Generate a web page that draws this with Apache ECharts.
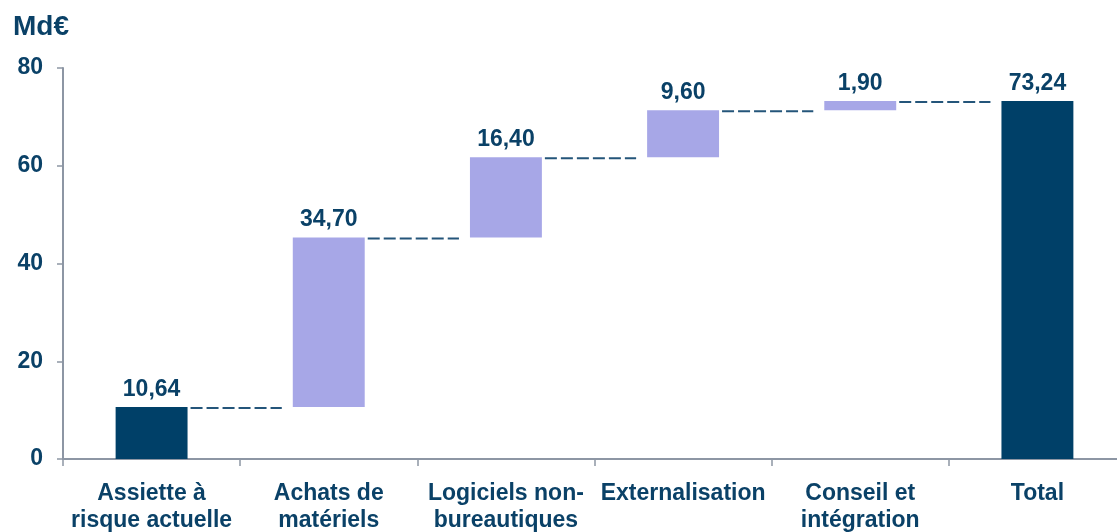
<!DOCTYPE html>
<html>
<head>
<meta charset="utf-8">
<script src="https://cdn.jsdelivr.net/npm/echarts@6/dist/echarts.min.js"></script>
<style>
  html, body { margin: 0; padding: 0; background: #ffffff; overflow: hidden; }
  /* the plot runs slightly past the right edge of the window */
  #chart { width: 1126px; height: 532px; }
</style>
</head>
<body>
<div id="chart"></div>
<script>
// Waterfall: current at-risk base, then additions by spending category, then total (Md€)
const categories = [
  'Assiette à\nrisque actuelle',
  'Achats de\nmatériels',
  'Logiciels non-\nbureautiques',
  'Externalisation',
  'Conseil et\nintégration',
  'Total'
];
const values = [10.64, 34.70, 16.40, 9.60, 1.90, 73.24];
const kinds = ['absolute', 'delta', 'delta', 'delta', 'delta', 'absolute'];
const yTicks = [0, 20, 40, 60, 80];

const NAVY = '#004068';
const LILAC = '#a7a7e7';
const TEXT = '#0a4167';
const AXIS = '#8d96a4';
const FONT = '"Liberation Sans", Arial, sans-serif';

// Invisible base under each floating bar
const bases = [];
let running = 0;
values.forEach((v, i) => {
  if (kinds[i] === 'absolute') {
    bases.push(0);
    running = v;
  } else {
    bases.push(running);
    running += v;
  }
});
const tops = values.map((v, i) => bases[i] + v);

const BAR_FRAC = 0.406;
const fmt = v => v.toFixed(2).replace('.', ',');

const chart = echarts.init(document.getElementById('chart'), null, { renderer: 'canvas' });
chart.setOption({
  animation: false,
  title: {
    text: 'Md€',
    left: 8,
    top: 8,
    textStyle: { fontFamily: FONT, fontSize: 28, fontWeight: 'bold', color: TEXT }
  },
  grid: {
    left: 63, right: 0, top: 68, bottom: 73,
    containLabel: false,
    outerBoundsMode: 'none'
  },
  xAxis: {
    type: 'category',
    data: categories,
    boundaryGap: true,
    axisLine: { lineStyle: { color: AXIS, width: 2 } },
    axisTick: { show: true, length: 7, lineStyle: { color: AXIS, width: 1.5 } },
    axisLabel: {
      interval: 0,
      margin: 21,
      fontFamily: FONT,
      fontSize: 23,
      fontWeight: 'bold',
      color: TEXT,
      lineHeight: 27
    }
  },
  yAxis: {
    type: 'value',
    min: yTicks[0],
    max: yTicks[yTicks.length - 1],
    interval: 20,
    splitLine: { show: false },
    axisLine: { show: true, lineStyle: { color: AXIS, width: 2 } },
    axisTick: { show: true, length: 6, lineStyle: { color: AXIS, width: 1.5 } },
    axisLabel: {
      margin: 20,
      fontFamily: FONT,
      fontSize: 23,
      fontWeight: 'bold',
      color: TEXT
    }
  },
  series: [
    {
      name: 'base',
      type: 'bar',
      stack: 'wf',
      barWidth: (BAR_FRAC * 100) + '%',
      itemStyle: { color: 'transparent' },
      emphasis: { disabled: true },
      data: bases
    },
    {
      name: 'valeur',
      type: 'bar',
      stack: 'wf',
      barWidth: (BAR_FRAC * 100) + '%',
      data: values.map((v, i) => ({
        value: v,
        itemStyle: { color: kinds[i] === 'absolute' ? NAVY : LILAC }
      })),
      label: {
        show: true,
        position: 'top',
        distance: 6,
        fontFamily: FONT,
        fontSize: 23,
        fontWeight: 'bold',
        color: TEXT,
        formatter: p => fmt(p.value)
      }
    },
    {
      // dashed connectors between consecutive bars at the running level
      name: 'liaisons',
      type: 'custom',
      silent: true,
      z: 3,
      data: tops.slice(0, -1).map((t, i) => [i, t]),
      renderItem: (params, api) => {
        const i = api.value(0);
        const level = api.value(1);
        const band = api.size([1, 0])[0];
        const half = band * BAR_FRAC / 2;
        const p0 = api.coord([i, level]);
        const p1 = api.coord([i + 1, level]);
        const x1 = p0[0] + half + 3;
        const x2 = p1[0] - half - 11;
        return {
          type: 'line',
          shape: { x1: x1, y1: p0[1] + 1, x2: x2, y2: p1[1] + 1 },
          style: { stroke: '#24557a', lineWidth: 2, lineDash: [12, 4] }
        };
      }
    }
  ]
});
</script>
</body>
</html>
